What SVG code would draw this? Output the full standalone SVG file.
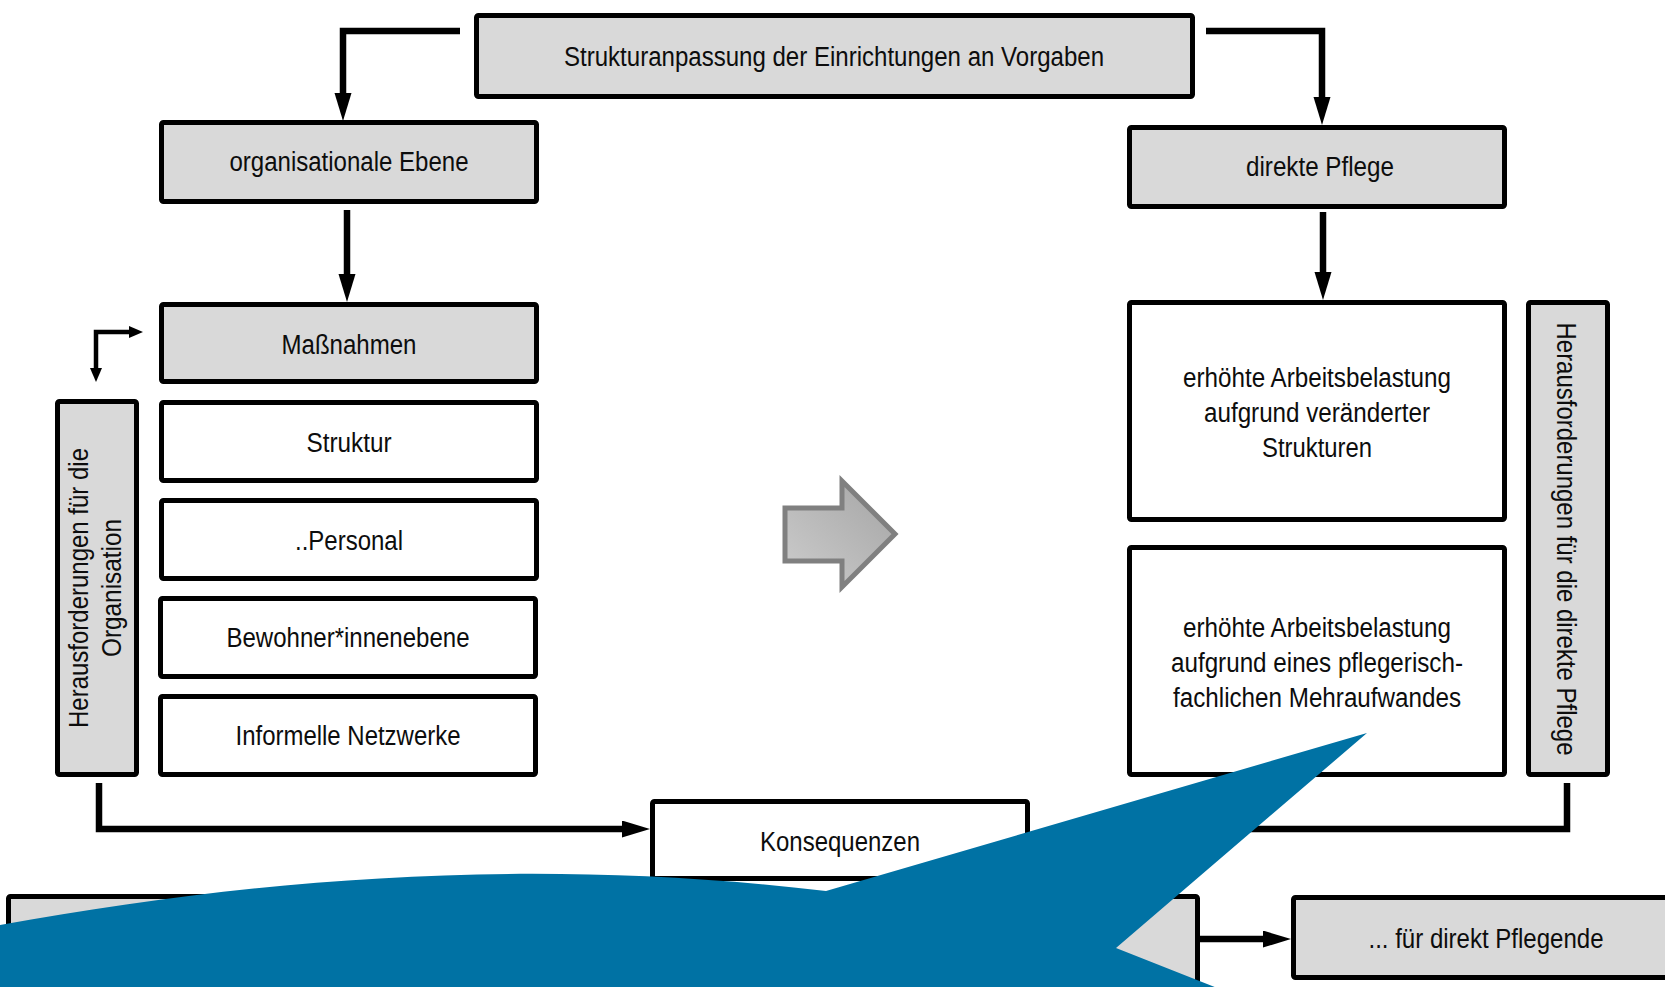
<svg xmlns="http://www.w3.org/2000/svg" width="1665" height="987" viewBox="0 0 1665 987">
<style>
.box{stroke:#000;stroke-width:5;}
.g{fill:#d9d9d9;}
.w{fill:#fff;}
.t{font-family:"Liberation Sans",Arial,sans-serif;font-size:27px;fill:#0d0d0d;text-anchor:middle;}
.c{fill:none;stroke:#000;stroke-width:6.5;stroke-linejoin:miter;}
.cs{fill:none;stroke:#000;stroke-width:4.5;stroke-linejoin:miter;}
</style>
<defs>
<marker id="ah" markerUnits="userSpaceOnUse" markerWidth="30" markerHeight="18" refX="3" refY="8.5" orient="auto"><path d="M0,0 L28,8.5 L0,17 z" fill="#000"/></marker>
<marker id="as" markerUnits="userSpaceOnUse" markerWidth="16" markerHeight="13" refX="2" refY="6" orient="auto-start-reverse"><path d="M0,0 L14,6 L0,12 z" fill="#000"/></marker>
<linearGradient id="ga" x1="0" y1="1" x2="1" y2="0"><stop offset="0" stop-color="#cdcdcd"/><stop offset="1" stop-color="#a4a4a4"/></linearGradient>
</defs>
<rect width="1665" height="987" fill="#fff"/>

<g id="connectors">
<path class="c" d="M460,31 H343 V96" marker-end="url(#ah)"/>
<path class="c" d="M1206,31 H1322 V100" marker-end="url(#ah)"/>
<path class="c" d="M347,210 V277" marker-end="url(#ah)"/>
<path class="c" d="M1323,212 V275" marker-end="url(#ah)"/>
<path class="cs" d="M96,370 V332 H131" marker-start="url(#as)" marker-end="url(#as)"/>
<path class="c" d="M99,783 V829 H625" marker-end="url(#ah)"/>
<path class="c" d="M1567,783 V829 H1080"/>
<path class="c" d="M1200,939 H1266" marker-end="url(#ah)"/>
</g>

<g id="n-top"><rect class="box g" x="476.5" y="15.5" width="716" height="81" rx="2"/><text class="t" x="834" y="66" textLength="540" lengthAdjust="spacingAndGlyphs">Strukturanpassung der Einrichtungen an Vorgaben</text></g>
<g id="n-org"><rect class="box g" x="161.5" y="122.5" width="375" height="79" rx="2"/><text class="t" x="349" y="171" textLength="239" lengthAdjust="spacingAndGlyphs">organisationale Ebene</text></g>
<g id="n-pflege"><rect class="box g" x="1129.5" y="127.5" width="375" height="79" rx="2"/><text class="t" x="1320" y="176" textLength="148" lengthAdjust="spacingAndGlyphs">direkte Pflege</text></g>
<g id="n-massnahmen"><rect class="box g" x="161.5" y="304.5" width="375" height="77" rx="2"/><text class="t" x="349" y="354" textLength="135" lengthAdjust="spacingAndGlyphs">Maßnahmen</text></g>
<g id="n-struktur"><rect class="box w" x="161.5" y="402.5" width="375" height="78" rx="2"/><text class="t" x="349" y="452" textLength="85" lengthAdjust="spacingAndGlyphs">Struktur</text></g>
<g id="n-personal"><rect class="box w" x="161.5" y="500.5" width="375" height="78" rx="2"/><text class="t" x="349" y="550" textLength="108" lengthAdjust="spacingAndGlyphs">..Personal</text></g>
<g id="n-bewohner"><rect class="box w" x="160.5" y="598.5" width="375" height="78" rx="2"/><text class="t" x="348" y="647" textLength="243" lengthAdjust="spacingAndGlyphs">Bewohner*innenebene</text></g>
<g id="n-netzwerke"><rect class="box w" x="160.5" y="696.5" width="375" height="78" rx="2"/><text class="t" x="348" y="745" textLength="225" lengthAdjust="spacingAndGlyphs">Informelle Netzwerke</text></g>
<g id="n-herausf-org"><rect class="box g" x="57.5" y="401.5" width="79" height="373" rx="2"/>
<text class="t" transform="translate(88,588) rotate(-90)" x="0" y="0" textLength="280" lengthAdjust="spacingAndGlyphs">Herausforderungen für die</text>
<text class="t" transform="translate(121,588) rotate(-90)" x="0" y="0" textLength="138" lengthAdjust="spacingAndGlyphs">Organisation</text></g>
<g id="n-belastung1"><rect class="box w" x="1129.5" y="302.5" width="375" height="217" rx="2"/>
<text class="t" x="1317" y="387" textLength="268" lengthAdjust="spacingAndGlyphs">erhöhte Arbeitsbelastung</text>
<text class="t" x="1317" y="422" textLength="226" lengthAdjust="spacingAndGlyphs">aufgrund veränderter</text>
<text class="t" x="1317" y="457" textLength="110" lengthAdjust="spacingAndGlyphs">Strukturen</text></g>
<g id="n-belastung2"><rect class="box w" x="1129.5" y="547.5" width="375" height="227" rx="2"/>
<text class="t" x="1317" y="637" textLength="268" lengthAdjust="spacingAndGlyphs">erhöhte Arbeitsbelastung</text>
<text class="t" x="1317" y="672" textLength="292" lengthAdjust="spacingAndGlyphs">aufgrund eines pflegerisch-</text>
<text class="t" x="1317" y="707" textLength="288" lengthAdjust="spacingAndGlyphs">fachlichen Mehraufwandes</text></g>
<g id="n-herausf-pflege"><rect class="box g" x="1528.5" y="302.5" width="79" height="472" rx="2"/>
<text class="t" transform="translate(1557,539) rotate(90)" x="0" y="0" textLength="433" lengthAdjust="spacingAndGlyphs">Herausforderungen für die direkte Pflege</text></g>
<g id="n-konsequenzen"><rect class="box w" x="652.5" y="801.5" width="375" height="77" rx="2"/><text class="t" x="840" y="851" textLength="160" lengthAdjust="spacingAndGlyphs">Konsequenzen</text></g>
<g id="n-bottom-left"><rect class="box g" x="8.5" y="896.5" width="1189" height="120" rx="2"/></g>
<g id="n-pflegende"><rect class="box g" x="1293.5" y="897.5" width="420" height="80" rx="2"/><text class="t" x="1486" y="948" textLength="235" lengthAdjust="spacingAndGlyphs">... für direkt Pflegende</text></g>

<g id="big-arrow"><polygon points="785,508 842,508 842,481 895,534 842,587 842,561 785,561" fill="url(#ga)" stroke="#808080" stroke-width="5" stroke-linejoin="miter"/></g>

<g id="callout"><path d="M0,925 C250,880 520,855 826,891 L1367,733 L1116,948 L1240,997 L0,997 Z" fill="#0072a4"/></g>
</svg>
